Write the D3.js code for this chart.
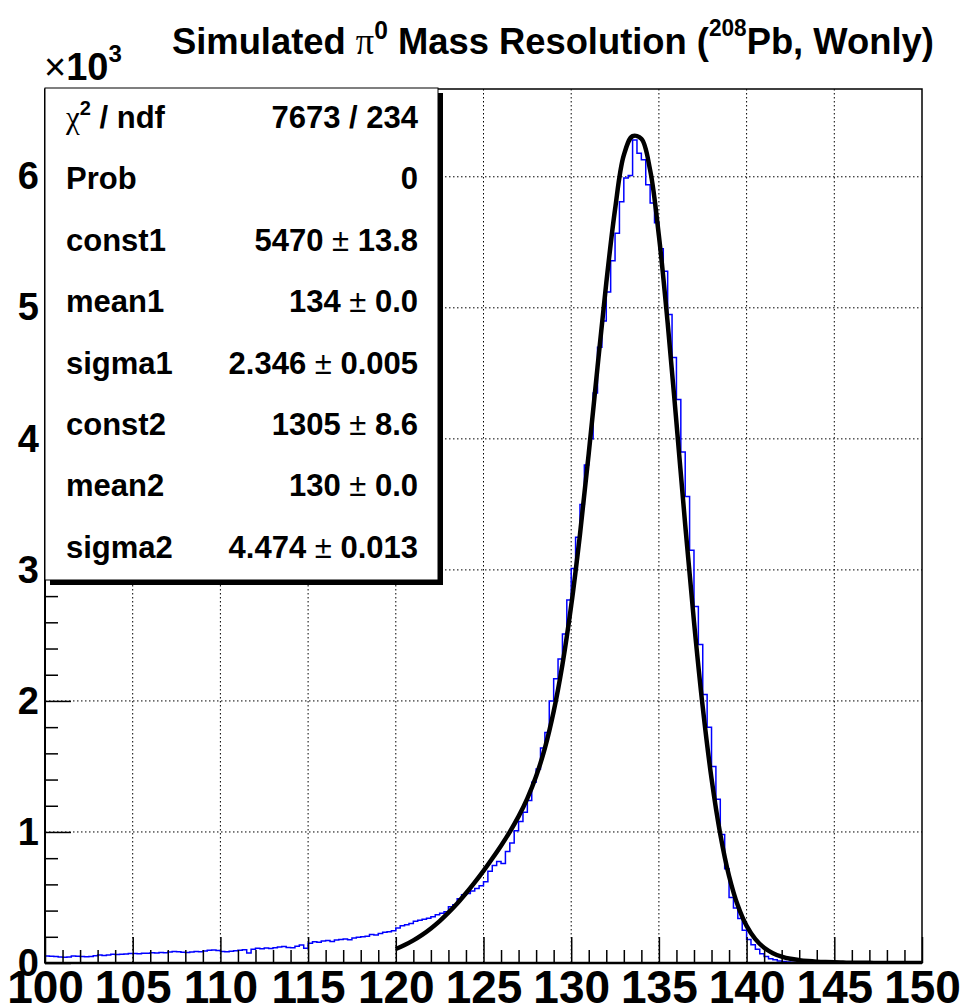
<!DOCTYPE html>
<html>
<head>
<meta charset="UTF-8">
<title>Simulated pi0 Mass Resolution</title>
<script src="https://d3js.org/d3.v7.min.js"></script>
<style>
  body { margin: 0; background: #fff; }
  svg text { font-family: "Liberation Sans", Arial, Helvetica, sans-serif; font-weight: bold; fill: #000; }
  .sym { font-family: "Liberation Serif", "DejaVu Serif", serif; font-weight: normal; }
  .thin { font-weight: normal; }
</style>
</head>
<body>
<div id="chart"></div>
<script>
// histogram, 0.25 wide bins from 100 to 150, heights
const binStart = 100, binWidth = 0.25;
const counts = [
  53, 52, 50, 46, 43, 45, 53, 51, 49, 48, 50, 56, 61, 58, 62, 66, 64, 66, 69, 72,
  73, 70, 75, 74, 78, 76, 80, 79, 84, 88, 85, 82, 80, 84, 87, 86, 92, 98, 99, 95,
  88, 86, 90, 93, 98, 101, 76, 105, 112, 108, 114, 111, 116, 122, 125, 118, 117, 128, 137, 112,
  150, 162, 158, 168, 172, 165, 176, 180, 184, 178, 190, 196, 200, 205, 218, 214, 226, 234, 238, 246,
  268, 285, 292, 302, 318, 327, 333, 341, 353, 368, 380, 392, 429, 445, 490, 520, 530, 550, 569, 590,
  620, 700, 745, 775, 760, 850, 915, 1010, 1080, 1150, 1240, 1380, 1480, 1640, 1760, 2000, 2170, 2320, 2510, 2770,
  3010, 3250, 3500, 3800, 4000, 4350, 4700, 4900, 5120, 5360, 5570, 5810, 5990, 6010, 6280, 6180, 6130, 5940, 5800, 5650,
  5450, 5280, 4950, 4620, 4300, 3900, 3560, 3150, 2720, 2430, 2050, 1800, 1500, 1250, 980, 720, 500, 420, 340, 250,
  180, 140, 105, 70, 50, 33, 24, 16, 11, 8, 6, 4, 3, 2, 1, 1, 0, 0, 0, 0,
  0, 0, 0, 0, 0, 0, 0, 0, 0, 0, 0, 0, 0, 0, 0, 0, 0, 0, 0, 0
];

// fit curve, sampled every 0.5 from 120 to 150
const fitStart = 120, fitStep = 0.5;
const fitValues = [
  107, 137, 173, 215, 264, 320, 384, 454, 532, 615,
  703, 797, 895, 1001, 1119, 1257, 1425, 1640, 1919, 2277,
  2728, 3271, 3888, 4546, 5189, 5751, 6165, 6310, 6290, 6051,
  5550, 4884, 4125, 3344, 2605, 1951, 1408, 982, 664, 438,
  283, 182, 116, 75, 49, 32, 22, 15, 10, 7,
  5, 3, 2, 1.5, 1, 0.6, 0.4, 0.25, 0.15, 0.1, 0.06
];

const xTicks = [100, 105, 110, 115, 120, 125, 130, 135, 140, 145, 150];
const yTicks = [0, 1000, 2000, 3000, 4000, 5000, 6000];

const statNames = ["Prob", "const1", "mean1", "sigma1", "const2", "mean2", "sigma2"];
const statValues = ["0", "5470", "134", "2.346", "1305", "130", "4.474"];
const statErrors = [null, "13.8", "0.0", "0.005", "8.6", "0.0", "0.013"];
const chi2 = "7673 / 234";

const W = 962, H = 1007;
const pLeft = 45, pRight = 922, pTop = 89, pBottom = 963;

const x = d3.scaleLinear().domain([100, 150]).range([pLeft, pRight]);
const y = d3.scaleLinear().domain([0, 6670]).range([pBottom, pTop]);

const svg = d3.select("#chart").append("svg")
  .attr("width", W).attr("height", H);

svg.append("defs").append("clipPath").attr("id", "plot")
  .append("rect").attr("x", pLeft).attr("y", pTop)
  .attr("width", pRight - pLeft).attr("height", pBottom - pTop);

// grid
svg.append("g").selectAll("line")
  .data(xTicks.slice(1, -1)).join("line")
  .attr("x1", d => x(d)).attr("x2", d => x(d))
  .attr("y1", pTop).attr("y2", pBottom)
  .attr("stroke", "#000").attr("stroke-width", 1).attr("stroke-dasharray", "1.5,2.5");
svg.append("g").selectAll("line")
  .data(yTicks.slice(1)).join("line")
  .attr("x1", pLeft).attr("x2", pRight)
  .attr("y1", d => y(d)).attr("y2", d => y(d))
  .attr("stroke", "#000").attr("stroke-width", 1).attr("stroke-dasharray", "1.5,2.5");

// histogram
const histPts = counts.map((c, i) => [binStart + i * binWidth, c]);
histPts.push([binStart + counts.length * binWidth, counts[counts.length - 1]]);
svg.append("path")
  .attr("clip-path", "url(#plot)")
  .attr("d", d3.line().x(d => x(d[0])).y(d => y(d[1])).curve(d3.curveStepAfter)(histPts))
  .attr("fill", "none").attr("stroke", "#0000ff").attr("stroke-width", 1.5);

// fit
const fitPts = fitValues.map((v, i) => [fitStart + i * fitStep, v]);
svg.append("path")
  .attr("clip-path", "url(#plot)")
  .attr("d", d3.line().x(d => x(d[0])).y(d => y(d[1])).curve(d3.curveCatmullRom.alpha(0.5))(fitPts))
  .attr("fill", "none").attr("stroke", "#000").attr("stroke-width", 4.5)
  .attr("stroke-linecap", "butt");

// axes
const xAxis = svg.append("g").attr("transform", `translate(0,${pBottom})`)
  .call(d3.axisBottom(x).tickValues(xTicks).tickSize(-26).tickPadding(7).tickFormat(d3.format("d")));
xAxis.selectAll("text").attr("font-size", 46).style("font-family", "Liberation Sans, Arial, sans-serif");
svg.append("g").attr("transform", `translate(0,${pBottom})`)
  .call(d3.axisBottom(x).tickValues(d3.range(100, 151, 1).filter(v => v % 5 !== 0)).tickSize(-13).tickFormat(""));

const yAxis = svg.append("g").attr("transform", `translate(${pLeft},0)`)
  .call(d3.axisLeft(y).tickValues(yTicks).tickSize(-26).tickPadding(6).tickFormat(d => d / 1000));
yAxis.selectAll("text").attr("font-size", 38).style("font-family", "Liberation Sans, Arial, sans-serif");
svg.append("g").attr("transform", `translate(${pLeft},0)`)
  .call(d3.axisLeft(y).tickValues(d3.range(200, 6670, 200).filter(v => v % 1000 !== 0)).tickSize(-13).tickFormat(""));

svg.selectAll(".domain").remove();
svg.selectAll(".tick line").attr("stroke", "#000").attr("stroke-width", 1.5);

svg.append("rect")
  .attr("x", pLeft).attr("y", pTop).attr("width", pRight - pLeft).attr("height", pBottom - pTop)
  .attr("fill", "none").attr("stroke", "#000").attr("stroke-width", 1.5);
svg.append("line").attr("x1", pLeft).attr("x2", pRight).attr("y1", pBottom).attr("y2", pBottom)
  .attr("stroke", "#000").attr("stroke-width", 2.5);
svg.append("line").attr("x1", pLeft).attr("x2", pLeft).attr("y1", pTop).attr("y2", pBottom)
  .attr("stroke", "#000").attr("stroke-width", 2);

// x10^3
const mult = svg.append("text").attr("x", 44).attr("y", 80).attr("font-size", 38);
mult.append("tspan").attr("class", "thin").text("\u00d7");
mult.append("tspan").text("10");
mult.append("tspan").attr("font-size", 24).attr("dy", -18).text("3");

// title
const title = svg.append("text").attr("font-size", 37);
title.append("tspan").text("Simulated ");
title.append("tspan").attr("class", "sym").text("\u03c0");
title.append("tspan").attr("font-size", 25).attr("dy", -15).text("0");
title.append("tspan").attr("dy", 15).text(" Mass Resolution (");
title.append("tspan").attr("font-size", 23).attr("dy", -18).text("208");
title.append("tspan").attr("dy", 18).text("Pb, Wonly)");
const tw = title.node().getComputedTextLength();
title.attr("transform", `translate(172,54) scale(${762 / tw},1)`);

// stats box
const bx = 45, by = 88, bw = 393, bh = 492;
svg.append("rect").attr("x", bx + 5).attr("y", by + 5).attr("width", bw).attr("height", bh).attr("fill", "#000");
svg.append("rect").attr("x", bx).attr("y", by).attr("width", bw).attr("height", bh)
  .attr("fill", "#fff").attr("stroke", "#000").attr("stroke-width", 1);

const rowY = i => 128 + i * 61.4;
const stats = svg.append("g").attr("font-size", 31);

const chiLabel = stats.append("text").attr("x", 66).attr("y", rowY(0));
chiLabel.append("tspan").attr("class", "sym").text("\u03c7");
chiLabel.append("tspan").attr("font-size", 20).attr("dy", -13).text("2");
chiLabel.append("tspan").attr("dy", 13).text(" / ndf");
stats.append("text").attr("x", 418).attr("y", rowY(0)).attr("text-anchor", "end").text(chi2);

statNames.forEach((name, i) => {
  stats.append("text").attr("x", 66).attr("y", rowY(i + 1)).text(name);
  const t = stats.append("text").attr("x", 418).attr("y", rowY(i + 1)).attr("text-anchor", "end");
  t.append("tspan").text(statValues[i]);
  if (statErrors[i] !== null) {
    t.append("tspan").attr("class", "thin").text(" \u00b1 ");
    t.append("tspan").text(statErrors[i]);
  }
});
</script>
</body>
</html>
